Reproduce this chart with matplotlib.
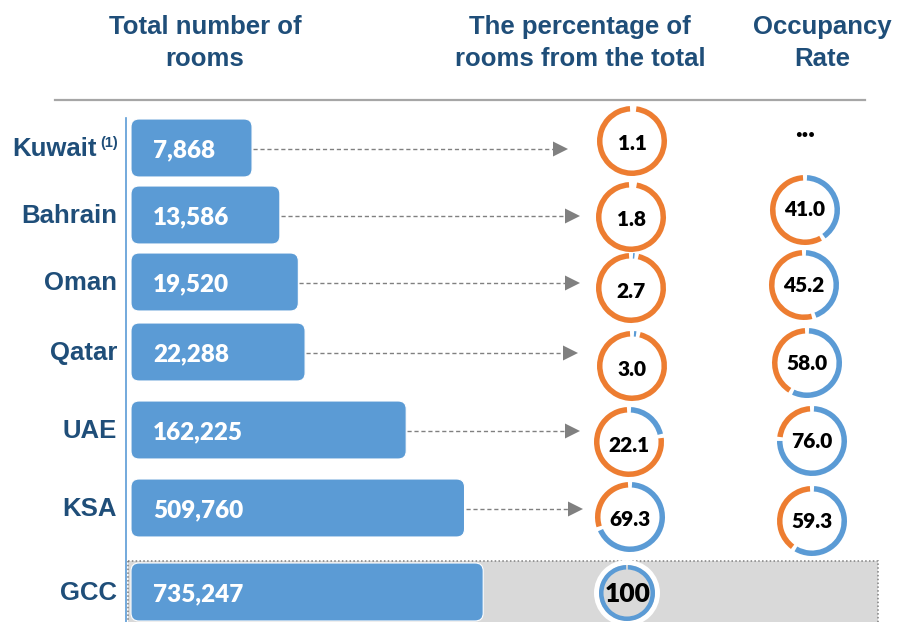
import matplotlib
matplotlib.use("Agg")
import matplotlib.pyplot as plt
from matplotlib.patches import Wedge, FancyBboxPatch, Rectangle, Circle

# hotel rooms in the GCC
countries = ["Kuwait", "Bahrain", "Oman", "Qatar", "UAE", "KSA", "GCC"]
rooms = [7868, 13586, 19520, 22288, 162225, 509760, 735247]
share_pct = [1.1, 1.8, 2.7, 3.0, 22.1, 69.3, 100]
occupancy = [None, 41.0, 45.2, 58.0, 76.0, 59.3, None]

headers = ["Total number of\nrooms", "The percentage of\nrooms from the total", "Occupancy\nRate"]

# layout (pixels, y grows downward)
W, H = 898, 622
row_y = [148, 215, 282, 352, 430, 508, 592]
bar_h = 58
bar_x0 = 131
px_per_decade = 117.3
base_val = 731
share_xy = [(632, 141), (631, 217), (631, 288), (632, 366), (629, 442), (630, 517), (627, 593)]
occ_xy = [(805, 133), (805, 210), (804, 285), (807, 363), (812, 441), (812, 521), None]
arrow_tip = [568, 580, 580, 578, 580, 583]

BLUE = "#5B9BD5"
ORANGE = "#ED7D31"
NAVY = "#1F4E79"
GREY = "#808080"
GAP = 7  # degrees of white between ring segments

fig = plt.figure(figsize=(W / 100, H / 100), dpi=100)
ax = fig.add_axes([0, 0, 1, 1])
ax.set_xlim(0, W)
ax.set_ylim(H, 0)
ax.axis("off")

# log axis for the bar lengths
axb = fig.add_axes([bar_x0 / W, 0, (878 - bar_x0) / W, 1])
axb.set_xscale("log")
axb.set_xlim(base_val, base_val * 10 ** ((878 - bar_x0) / px_per_decade))
axb.set_ylim(H, 0)
axb.axis("off")
axb.patch.set_visible(False)

# headers
for (hx, txt) in zip([205, 580, 822], headers):
    ax.text(hx, 43, txt, ha="center", va="center", fontsize=18.5, fontweight="bold",
            color=NAVY, family="Liberation Sans", linespacing=1.45)
ax.plot([55, 865], [100, 100], color="#A6A6A6", lw=1.6)

# GCC total row background
ax.add_patch(Rectangle((128, 561), 750, 70, facecolor="#D9D9D9", edgecolor="#7F7F7F",
                       lw=1.1, ls=(0, (1, 1.5)), zorder=0))
ax.plot([126, 126], [118, H], color=BLUE, lw=1.2, zorder=1)

bars = axb.barh(row_y, [v - base_val for v in rooms], left=base_val, height=bar_h)
to_px = ax.transData.inverted()
for i, bar in enumerate(bars):
    bx0, by0 = to_px.transform(axb.transData.transform((bar.get_x(), bar.get_y())))
    bx1, by1 = to_px.transform(axb.transData.transform((bar.get_x() + bar.get_width(),
                                                         bar.get_y() + bar.get_height())))
    bar.set_visible(False)
    top, bot = min(by0, by1), max(by0, by1)
    rad = 8
    ax.add_patch(FancyBboxPatch((bx0 + rad, top + rad), bx1 - bx0 - 2 * rad, bot - top - 2 * rad,
                                boxstyle="round,pad=%d,rounding_size=%d" % (rad, rad),
                                facecolor=BLUE, edgecolor="white", lw=0.8, zorder=2))
    ax.text(bx0 + 22, row_y[i] + 2, f"{rooms[i]:,}", ha="left", va="center", fontsize=17.5,
            fontweight="heavy", color="white", family="Lato", zorder=3)
    # dashed arrow to the share ring
    if i < len(arrow_tip):
        ax.plot([bx1 + 1, arrow_tip[i] - 14], [row_y[i] + 1] * 2, color=GREY, lw=1,
                ls=(0, (3, 2)), zorder=1)
        ax.fill([arrow_tip[i] - 15, arrow_tip[i], arrow_tip[i] - 15],
                [row_y[i] - 6.5, row_y[i] + 1, row_y[i] + 8.5], color=GREY, lw=0)

# country names
for i, name in enumerate(countries):
    x = 97 if name == "Kuwait" else 117
    ax.text(x, row_y[i] + 1, name, ha="right", va="center", fontsize=18.5, fontweight="bold",
            color=NAVY, family="Liberation Sans")
ax.text(100, row_y[0] - 5, "(1)", ha="left", va="center", fontsize=10.5, fontweight="bold",
        color=NAVY, family="Liberation Sans")


def ring(cx, cy, v, r=35, w=5.5):
    split = -90 + 3.6 * v
    if 3.6 * v > GAP:
        ax.add_patch(Wedge((cx, cy), r, -90 + GAP / 2, split - GAP / 2, width=w,
                           facecolor=BLUE, lw=0, zorder=3))
    ax.add_patch(Wedge((cx, cy), r, split + GAP / 2, 270 - GAP / 2, width=w,
                       facecolor=ORANGE, lw=0, zorder=3))


for i, v in enumerate(share_pct):
    cx, cy = share_xy[i]
    if v >= 100:
        ax.add_patch(Circle((cx, cy), 33, facecolor="white", lw=0, zorder=3))
        ax.add_patch(Circle((cx, cy), 28, facecolor="#D9D9D9", lw=0, zorder=3))
        ax.add_patch(Wedge((cx, cy), 28, -90 + 2, 270 - 2, width=4.5, facecolor=BLUE,
                           lw=0, zorder=4))
        ax.text(cx + 1, cy + 1, f"{v:.0f}", ha="center", va="center", fontsize=19,
                fontweight="heavy", color="black", family="Lato", zorder=5)
    else:
        ring(cx, cy, v)
        ax.text(cx, cy + 3, f"{v:.1f}", ha="center", va="center", fontsize=15,
                fontweight="heavy", color="black", family="Lato", zorder=5)

for i, v in enumerate(occupancy):
    if occ_xy[i] is None:
        continue
    cx, cy = occ_xy[i]
    if v is None:
        ax.text(cx, cy - 4, "...", ha="center", va="center", fontsize=20, fontweight="heavy",
                color="black", family="Lato")
        continue
    ring(cx, cy, v)
    ax.text(cx, cy, f"{v:.1f}", ha="center", va="center", fontsize=15,
            fontweight="heavy", color="black", family="Lato", zorder=5)

fig.savefig("out.png", dpi=100)
